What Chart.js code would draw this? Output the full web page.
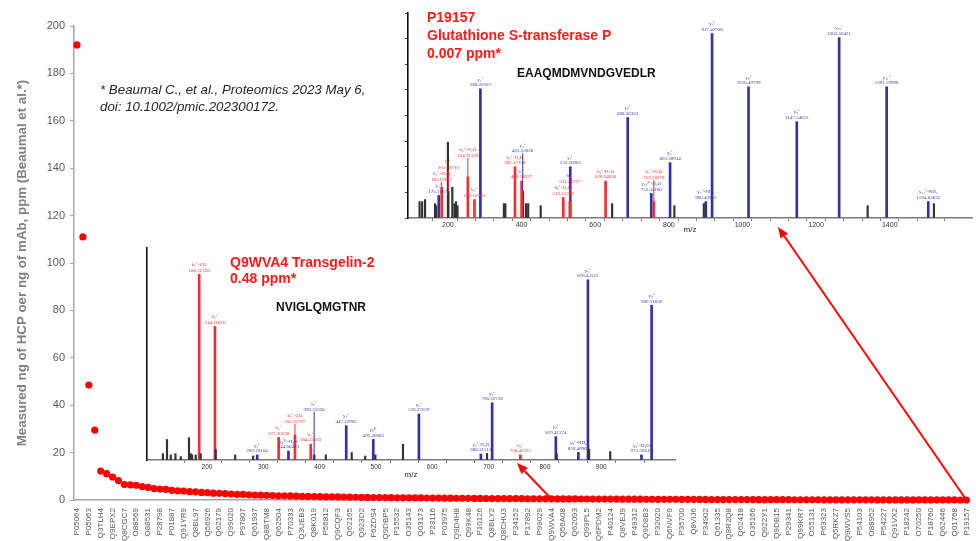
<!DOCTYPE html>
<html><head><meta charset="utf-8">
<script src="https://cdn.jsdelivr.net/npm/chart.js@4.4.1/dist/chart.umd.min.js"></script>
<style>
html,body{margin:0;padding:0;background:#fff;}
#wrap{position:relative;width:976px;height:541px;overflow:hidden;font-family:"Liberation Sans",Arial,sans-serif;background:#fff;}
canvas{position:absolute;}
.t{position:absolute;white-space:nowrap;}
.red{color:#ff1a1a;font-weight:bold;font-size:14px;}
.pep{color:#111;font-weight:bold;font-size:12px;line-height:12px;}
.cite{color:#262626;font-style:italic;font-size:13.3px;line-height:17px;}
</style></head><body>
<div id="wrap">
<canvas id="main" style="left:0;top:0" width="976" height="541"></canvas>
<canvas id="spec1" style="left:395px;top:0" width="581" height="245"></canvas>
<canvas id="spec2" style="left:135px;top:240px" width="545" height="245"></canvas>
<div class="t cite" style="left:100px;top:81px">* Beaumal C., et al., Proteomics 2023 May 6,<br>doi: 10.1002/pmic.202300172.</div>
<div class="t red" style="left:427px;top:7.7px;line-height:18.3px">P19157<br>Glutathione S-transferase P<br>0.007 ppm*</div>
<div class="t pep" style="left:517px;top:66.8px">EAAQMDMVNDGVEDLR</div>
<div class="t red" style="left:230px;top:253.6px;line-height:16.5px">Q9WVA4 Transgelin-2<br>0.48 ppm*</div>
<div class="t pep" style="left:276px;top:300.5px">NVIGLQMGTNR</div>
</div>
<script>
// ---------- main chart data ----------
const labeledIds = ['P05064','P05063','Q3TLH4','Q9EPX2','Q8CGC7','O88569','O88531','P28798','P01887','Q91YR9',
 'Q8BL97','Q56926','Q62179','Q99020','P97807','Q61937','Q8BTM8','Q62504','P70333','Q3UEB3',
 'Q8K019','P56812','Q9CQF3','Q62165','Q923D2','F6ZDS4','Q9DBP5','P15532','O35143','Q03173',
 'P23116','P03975','Q9D4H8','Q99K48','P10126','Q8BLY2','Q8CHU3','P34152','P17892','P99029',
 'Q9WVA4','Q56A08','Q62093','Q99PL5','Q6PDM2','P40124','Q8VEJ9','P49312','Q9D8B3','P32020',
 'Q6NVF9','P35700','Q8VIJ6','P34902','Q61335','Q8R2Q8','Q62418','O35166','Q922Y1','Q9DB15',
 'P29341','Q99KR7','O55131','P63323','Q5RKZ7','Q9WVS5','P54103','O88952','P54227','Q91VX2',
 'P18242','O70250','P18760','Q62446','Q01768','P19157'];
const hcpPpm = [192,111,48.5,29.5,12.2,11.1,9.7,8.2,6.5,6.4,6.2,5.7,5.3,4.8,4.6,4.5,4.1,3.9,3.8,3.5,
 3.4,3.2,3.1,2.9,2.8,2.7,2.5,2.4,2.35,2.2,2.1,2.05,2.0,1.9,1.8,1.75,1.7,1.6,1.55,1.5,
 1.45,1.4,1.35,1.3,1.28,1.25,1.2,1.15,1.12,1.1,1.05,1.02,
 0.99,0.97,0.95,0.92,0.9,0.88,0.86,0.84,0.82,0.8,0.78,0.76,0.74,0.72,0.7,0.68,0.66,0.64,0.62,0.6,
 0.59,0.57,0.56,0.54,0.53,0.52,0.5,0.49,0.48,
 0.47,0.46,0.45,0.44,0.43,0.42,0.41,0.4,0.39,0.38,0.37,0.36,0.35,0.34,0.33,0.32,0.31,0.3,0.29,0.28,
 0.27,0.26,0.25,0.24,0.235,0.23,0.22,0.21,0.2,0.19,0.185,0.18,0.17,0.16,0.155,0.15,0.14,0.135,0.13,0.12,
 0.115,0.11,0.105,0.1,0.095,0.09,0.085,0.08,0.075,0.07,0.066,0.062,0.058,0.054,0.05,0.046,0.042,0.038,0.035,0.032,
 0.029,0.026,0.023,0.02,0.018,0.016,0.013,0.011,0.009,0.007];
const arrowFrom = ['Q9WVA4','P19157'];
const yTitle = 'Measured ng of HCP oer ng of mAb, ppm (Beaumal et al.*)';

// ---------- spectrum 1 (P19157) ----------
const spec1Mz   = [123,130,138,165,168,175.12,183.08,200,201.09,212,218,222,226,254.11,272.12,288.20,352,356,382.17,400.18,403.23,412,418,452,513.21,531.22,532.27,628.24,646,688.36,752.34,759.28,803.39,815,895,900.41,917.43,1016.49,1147.54,1262.56,1340,1391.60,1504.64,1520];
const spec1Int  = [8,8,9,7,6,11,15,37,13,15,7,8,6,20,9,63,7,7,25,18,13,7,7,6,10,8,25,18,7,49,12,8,27,6,7,8,90,64,47,88,6,64,8,7];
const spec1Type = ['n','n','n','n','n','y','b','n','b','n','n','n','n','b','b','y','n','n','b','b','y','n','n','n','b','b','y','b','n','y','y','b','y','n','n','y','y','y','y','y','n','y','y','n'];
const spec1Ion  = ['','','','','','y₁⁺','b₂⁺-H₂O','','b₂⁺','','','','','b₃⁺-H₂O','b₃⁺','y₂⁺','','','b₄⁺-H₂O','b₄⁺','y₃⁺','','','','b₅⁺-H₂O','b₅⁺','y₄⁺','b₆⁺-H₂O','','y₅⁺','y₁₂²⁺-H₂O','b₇⁺-H₂O','y₆⁺','','','y₇⁺-NH₃','y₇⁺','y₈⁺','y₉⁺','y₁₀⁺','','y₁₁⁺','y₁₂⁺-NH₃',''];
const spec1Lab  = ['','','','','','175.11874','183.07611','','201.08710','','','','','254.11339','272.12389','288.20267','','','382.17108','400.18237','403.23026','','','','513.21288','531.22327','532.26965','628.24036','','688.36363','752.34180','759.28278','803.38934','','','900.40962','917.42938','1016.49799','1147.54053','1262.56421','','1391.59998','1504.63635',''];

// ---------- spectrum 2 (Q9WVA4) ----------
const spec2Mz   = [121.7,129,135.7,144,153.5,168,171,173.6,180,186.12,188.8,214.12,215.5,250,282,289.20,327.20,344.66,356.22,384.22,390.25,411,447.23,457,481,495.26,499,548,576.27,686.32,697.3,706.33,756.42,819.42,821,859.41,876.42,878.5,916,971.51,989.52];
const spec2Int  = [3,9.7,2.4,3,1.6,10.5,3,2.4,2.4,87.6,3,63,5,2.4,1.9,2.4,10.7,4.2,11.8,7.5,2.4,2.4,16.2,3.5,1.9,9.7,2.4,7.5,21.7,2.8,3.1,27,2.4,11,3,3.6,85,5,4,2.4,73];
const spec2Type = ['n','n','n','n','n','n','n','n','n','b','n','b','n','n','n','y','b','y','b','b','y','n','y','n','n','y','n','n','y','y','n','y','b','y','n','y','y','n','n','y','y'];
const spec2Ion  = ['','','','','','','','','','b₂⁺-CO','','b₂⁺','','','','y₂⁺','b₃⁺','y₆²⁺-H₂O','b₄⁺-CO','b₄⁺','y₃⁺','','y₄⁺','','','y₈²⁺','','','y₅⁺','y₆⁺-H₂O','','y₆⁺','b₈⁺','y₇⁺','','y₈⁺-NH₃','y₈⁺','','','y₉⁺-H₂O','y₉⁺'];
const spec2Lab  = ['','','','','','','','','','186.12328','','214.11810','','','','289.20104','327.20238','344.66473','356.22797','384.22503','390.25036','','447.22992','','','495.26083','','','576.27039','686.31512','','706.32758','756.42232','819.41374','','859.40962','876.43323','','','971.50610','989.51630'];

// ---------- build ----------
const categories = [];
labeledIds.forEach((id, k) => { categories.push(id); if (k < labeledIds.length - 1) categories.push(''); });

const FONT = '"Liberation Sans", Arial, sans-serif';
Chart.defaults.font.family = FONT;

function drawArrow(ctx, x0, y0, x1, y1) {
  const ang = Math.atan2(y1 - y0, x1 - x0), L = 11, W = 4.5;
  const bx = x1 - L * Math.cos(ang), by = y1 - L * Math.sin(ang);
  ctx.save();
  ctx.strokeStyle = '#ff0000'; ctx.fillStyle = '#ff0000'; ctx.lineWidth = 2;
  ctx.beginPath(); ctx.moveTo(x0, y0); ctx.lineTo(bx, by); ctx.stroke();
  ctx.beginPath(); ctx.moveTo(x1, y1);
  ctx.lineTo(bx + W * Math.sin(ang), by - W * Math.cos(ang));
  ctx.lineTo(bx - W * Math.sin(ang), by + W * Math.cos(ang));
  ctx.closePath(); ctx.fill();
  ctx.restore();
}
const arrowTargets = [[517, 463], [778, 227]];
const arrowPlugin = {
  id: 'arrows',
  afterDatasetsDraw(chart) {
    const meta = chart.getDatasetMeta(0);
    arrowFrom.forEach((id, k) => {
      const p = meta.data[categories.indexOf(id)];
      drawArrow(chart.ctx, p.x, p.y, arrowTargets[k][0], arrowTargets[k][1]);
    });
  }
};

new Chart(document.getElementById('main'), {
  type: 'line',
  data: { labels: categories, datasets: [{ data: hcpPpm, showLine: false, clip: false,
    pointRadius: 3.6, pointHoverRadius: 3.6, pointBorderWidth: 0,
    pointBackgroundColor: '#ff0000', borderColor: '#ff0000', backgroundColor: '#ff0000' }] },
  options: {
    responsive: false, animation: false, devicePixelRatio: 1, events: [],
    layout: { padding: { left: 10, top: 26, right: 3, bottom: 0 } },
    plugins: { legend: { display: false }, tooltip: { enabled: false } },
    scales: {
      x: { offset: true, grid: { display: false }, border: { color: '#a6a6a6', width: 1.5 },
        ticks: { autoSkip: false, maxRotation: 90, minRotation: 90, padding: 0,
          font: { size: 8 }, color: '#595959', callback: (v, i) => categories[i] },
        afterFit: s => { s.height = 41; } },
      y: { min: 0, max: 200,
        ticks: { stepSize: 20, padding: 5, font: { size: 11 }, color: '#595959' },
        grid: { drawOnChartArea: false, drawTicks: true, tickLength: 4, color: '#a6a6a6' },
        border: { color: '#a6a6a6', width: 1.5 },
        title: { display: true, text: yTitle, color: '#7f7f7f', font: { size: 13.3, weight: 'bold' }, padding: { top: 4, bottom: 4 } },
        afterFit: s => { s.width = 64; } }
    }
  },
  plugins: [arrowPlugin]
});

// ---------- spectra ----------
const ionColor = { n: '#333333', b: '#f03030', y: '#3232a6' };
const ionText = { n: '#333333', b: '#f03030', y: '#3a3aaa' };
function makeSets(mz, inten, type) {
  const g = { n: [], b: [], y: [] };
  mz.forEach((m, i) => g[type[i]].push({ x: m, y: inten[i], i }));
  return ['n', 'b', 'y'].map(t => ({ data: g[t], backgroundColor: ionColor[t], type: 'bar',
    barThickness: t === 'n' ? 1.5 : 2, stack: 's', tkey: t }));
}
function labelPlugin(ions, labs) {
  return {
    id: 'peaklabels',
    afterDatasetsDraw(chart) {
      const ctx = chart.ctx; const items = [];
      chart.data.datasets.forEach((ds, d) => {
        const meta = chart.getDatasetMeta(d);
        ds.data.forEach((pt, k) => {
          if (labs[pt.i]) items.push({ x: meta.data[k].x, y: meta.data[k].y, ion: ions[pt.i], lab: labs[pt.i], t: ds.tkey });
        });
      });
      items.sort((a, b) => a.x - b.x);
      ctx.save();
      ctx.font = '5px "Liberation Serif", serif';
      ctx.textAlign = 'center'; ctx.textBaseline = 'bottom';
      const placed = [];
      items.forEach(it => {
        const w = Math.max(ctx.measureText(it.ion).width, ctx.measureText(it.lab).width) + 1;
        let bottom = it.y - 1.5; const h = 11;
        let moved = false, again = true;
        while (again) {
          again = false;
          for (const p of placed) {
            if (it.x - w / 2 < p.r && it.x + w / 2 > p.l && bottom - h < p.b && bottom > p.t) {
              bottom = p.t - 1; moved = true; again = true;
            }
          }
        }
        placed.push({ l: it.x - w / 2, r: it.x + w / 2, t: bottom - h, b: bottom });
        ctx.fillStyle = ionText[it.t];
        if (moved) {
          ctx.strokeStyle = ionColor[it.t]; ctx.lineWidth = 1;
          ctx.beginPath(); ctx.moveTo(it.x, it.y); ctx.lineTo(it.x, bottom); ctx.stroke();
        }
        ctx.fillText(it.ion, it.x, bottom - 5.5);
        ctx.fillText(it.lab, it.x, bottom);
      });
      ctx.restore();
    }
  };
}
function specChart(id, mz, inten, type, ions, labs, cfg) {
  new Chart(document.getElementById(id), {
    type: 'bar',
    data: { datasets: makeSets(mz, inten, type) },
    options: {
      responsive: false, animation: false, devicePixelRatio: 1, events: [],
      layout: { padding: { top: cfg.top, right: cfg.right, left: 0, bottom: 0 } },
      plugins: { legend: { display: false }, tooltip: { enabled: false } },
      scales: {
        x: { type: 'linear', min: cfg.min, max: cfg.max,
          grid: { drawOnChartArea: false, tickLength: 3, color: '#777' },
          border: { color: '#7a7a7a', width: 1.5 },
          ticks: { stepSize: 50, autoSkip: false, maxRotation: 0, padding: 0, font: { size: cfg.tickSize }, color: '#333',
            callback: v => (v % cfg.labStep === 0 && v >= cfg.labMin && v <= cfg.labMax) ? String(v) : '' },
          title: { display: true, text: 'm/z', font: { size: 8 }, color: '#222', padding: { top: 0, bottom: cfg.titlePad } },
          afterFit: s => { s.height = cfg.xh; } },
        y: { min: 0, max: 100,
          ticks: { display: false, stepSize: 12.5 },
          grid: { display: cfg.yTicks, drawOnChartArea: false, tickLength: 3, color: '#444' },
          border: { color: '#111', width: 1.6 },
          afterFit: s => { s.width = cfg.yw; } }
      }
    },
    plugins: [labelPlugin(ions, labs)]
  });
}
specChart('spec1', spec1Mz, spec1Int, spec1Type, spec1Ion, spec1Lab,
  { top: 13, right: 4, min: 118, max: 1597, tickSize: 7, labStep: 200, labMin: 200, labMax: 1400, titlePad: 10, xh: 27, yw: 13, yTicks: true });
specChart('spec2', spec2Mz, spec2Int, spec2Type, spec2Ion, spec2Lab,
  { top: 8, right: 5, min: 119.5, max: 1005, tickSize: 6.5, labStep: 100, labMin: 200, labMax: 1000, titlePad: 5, xh: 25, yw: 12, yTicks: false });
</script>
</body></html>
